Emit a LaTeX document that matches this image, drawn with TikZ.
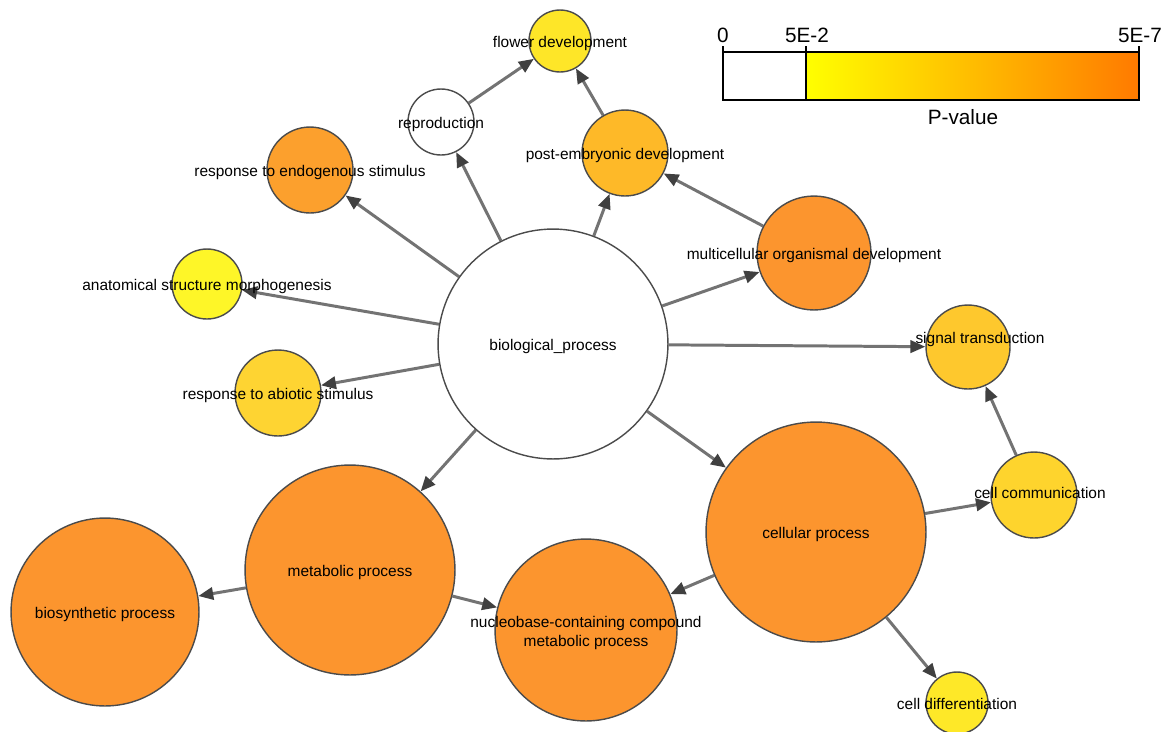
\documentclass[tikz,border=0pt]{standalone}
\usepackage{fontspec}
\setmainfont{Liberation Sans}
\usetikzlibrary{arrows.meta,backgrounds}

\definecolor{rimgray}{RGB}{75,75,75}
\definecolor{edgegray}{RGB}{115,115,115}
\definecolor{headgray}{RGB}{64,64,64}
\definecolor{pdeep}{RGB}{252,149,46}
\definecolor{pendo}{RGB}{252,160,45}
\definecolor{pembryo}{RGB}{254,185,40}
\definecolor{psignal}{RGB}{254,200,45}
\definecolor{pcomm}{RGB}{254,212,45}
\definecolor{pabiotic}{RGB}{254,212,50}
\definecolor{pflower}{RGB}{254,230,40}
\definecolor{pdiff}{RGB}{254,232,40}
\definecolor{pmorph}{RGB}{254,246,40}
\definecolor{pyellow}{RGB}{255,255,0}
\definecolor{porange}{RGB}{255,122,0}

\tikzset{
  goterm/.style 2 args={circle, draw=rimgray, line width=0.8pt, fill=#2,
    inner sep=0pt, minimum size=#1*0.04cm},
  isa/.style={draw=edgegray, line width=1.7pt,
    -{Triangle[length=8.5pt,width=7pt,color=headgray]}},
  every label/.style={yshift=-1.7pt},
  legendtext/.style={font=\fontsize{11.8}{14}\selectfont, inner sep=1pt}
}

\begin{document}
\begin{tikzpicture}[x=0.02cm,y=-0.02cm,font=\fontsize{8.8}{10.5}\selectfont]
\useasboundingbox (0,0) rectangle (1172,731);

% GO terms
\node[goterm={115}{white}, label={center:biological\_process}] (bp) at (553,344) {};
\node[goterm={31}{pflower}, label={center:flower development}] (flower) at (560,41) {};
\node[goterm={33}{white}, label={center:reproduction}] (repro) at (441,122) {};
\node[goterm={43}{pembryo}, label={center:post-embryonic development}] (embryo) at (625,153) {};
\node[goterm={43}{pendo}, label={center:response to endogenous stimulus}] (endo) at (310,170) {};
\node[goterm={57}{pdeep}, label={center:multicellular organismal development}] (multi) at (814,253) {};
\node[goterm={35}{pmorph}, label={center:anatomical structure morphogenesis}] (morph) at (207,284) {};
\node[goterm={42}{psignal}, label={[xshift=6.8pt,yshift=5.7pt]center:signal transduction}] (signal) at (968,347) {};
\node[goterm={43}{pabiotic}, label={center:response to abiotic stimulus}] (abiotic) at (278,393) {};
\node[goterm={43}{pcomm}, label={[xshift=3.4pt,yshift=2.8pt]center:cell communication}] (comm) at (1034,495) {};
\node[goterm={110}{pdeep}, label={center:cellular process}] (cell) at (816,532) {};
\node[goterm={105}{pdeep}, label={center:metabolic process}] (metab) at (350,570) {};
\node[goterm={94}{pdeep}, label={center:biosynthetic process}] (biosyn) at (105,612) {};
\node[goterm={91}{pdeep}, label={[align=center]center:nucleobase-containing compound\\metabolic process}] (nucleo) at (586,630) {};
\node[goterm={31}{pdiff}, label={[yshift=1pt]center:cell differentiation}] (diff) at (957,703) {};

% is-a links
\begin{scope}[on background layer]
  \draw[isa] (bp) -- (repro);
  \draw[isa] (repro) -- (flower);
  \draw[isa] (embryo) -- (flower);
  \draw[isa] (bp) -- (embryo);
  \draw[isa] (multi) -- (embryo);
  \draw[isa] (bp) -- (endo);
  \draw[isa] (bp) -- (morph);
  \draw[isa] (bp) -- (abiotic);
  \draw[isa] (bp) -- (multi);
  \draw[isa] (bp) -- (signal);
  \draw[isa] (comm) -- (signal);
  \draw[isa] (cell) -- (comm);
  \draw[isa] (bp) -- (metab);
  \draw[isa] (bp) -- (cell);
  \draw[isa] (metab) -- (biosyn);
  \draw[isa] (metab) -- (nucleo);
  \draw[isa] (cell) -- (nucleo);
  \draw[isa] (cell) -- (diff);
\end{scope}

% P-value legend
\shade[left color=pyellow, right color=porange] (806,52) rectangle (1139,100);
\draw[line width=1.6pt] (723,52) rectangle (1139,100);
\draw[line width=1.6pt] (723,46) -- (723,52) (806,46) -- (806,100) (1139,46) -- (1139,52);
\node[legendtext] (pzero) at (723,35) {0};
\node[legendtext] (pcut) at (807,35) {5E-2};
\node[legendtext] (pmax) at (1140,35) {5E-7};
\node[legendtext] (ptitle) at (963,117) {P-value};
\end{tikzpicture}
\end{document}
